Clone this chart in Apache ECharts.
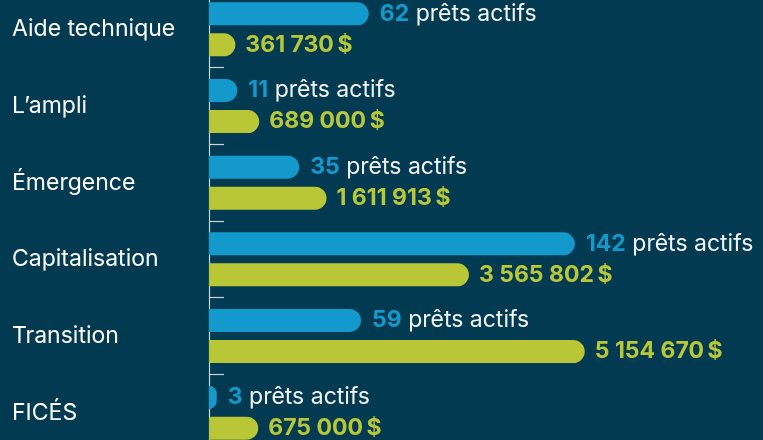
<!DOCTYPE html>
<html>
<head>
<meta charset="utf-8">
<script src="https://cdn.jsdelivr.net/npm/echarts@6/dist/echarts.min.js"></script>
<style>
html,body{margin:0;padding:0;background:#013a51;}
#c{width:763px;height:440px;}
</style>
</head>
<body>
<div id="c"></div>
<script>
const categories = ['Aide technique', 'L\u2019ampli', 'Émergence', 'Capitalisation', 'Transition', 'FICÉS'];
const activeLoans = [62, 11, 35, 142, 59, 3];
const amounts = [361730, 689000, 1611913, 3565802, 5154670, 675000];
const loansSuffix = ' prêts actifs';
const currencySuffix = '\u2009$';

function fmt(n) {
  return String(n).replace(/\B(?=(\d{3})+(?!\d))/g, ' ');
}

const BLUE = '#1399cb';
const GREEN = '#b9c737';
const FONT = 'Inter';
const FS = 23;

const chart = echarts.init(document.getElementById('c'));
chart.setOption({
  backgroundColor: '#013a51',
  animation: false,
  grid: { left: 209, width: 554, top: -9, height: 460, containLabel: false, outerBoundsMode: 'none' },
  xAxis: [
    { type: 'value', min: 0, max: 215, show: false },
    { type: 'value', min: 0, max: 7600000, show: false }
  ],
  yAxis: {
    type: 'category',
    data: categories,
    inverse: true,
    offset: 3,
    axisLine: { show: true, lineStyle: { color: '#c9d3d9', width: 1.2 } },
    axisTick: { show: true, inside: true, length: 15, lineStyle: { color: '#c9d3d9', width: 1.2 } },
    axisLabel: {
      align: 'left',
      margin: 194,
      color: '#ffffff',
      fontFamily: FONT,
      fontSize: FS,
      fontWeight: 400
    },
    splitLine: { show: false }
  },
  series: [
    {
      type: 'bar',
      xAxisIndex: 0,
      data: activeLoans,
      barWidth: 23,
      barGap: '35%',
      itemStyle: { color: BLUE, borderRadius: [0, 12, 12, 0] },
      label: {
        show: true,
        position: 'right',
        distance: 11,
        formatter: p => '{n|' + p.value + '}{t|' + loansSuffix + '}',
        rich: {
          n: { color: BLUE, fontFamily: FONT, fontSize: FS, fontWeight: 700 },
          t: { color: '#f2f5f7', fontFamily: FONT, fontSize: FS, fontWeight: 400 }
        }
      }
    },
    {
      type: 'bar',
      xAxisIndex: 1,
      data: amounts,
      barWidth: 23,
      barGap: '35%',
      itemStyle: { color: GREEN, borderRadius: [0, 12, 12, 0] },
      label: {
        show: true,
        position: 'right',
        distance: 10,
        formatter: p => fmt(p.value) + currencySuffix,
        color: GREEN,
        fontFamily: FONT,
        fontSize: FS,
        fontWeight: 700
      }
    }
  ]
});
</script>
</body>
</html>
